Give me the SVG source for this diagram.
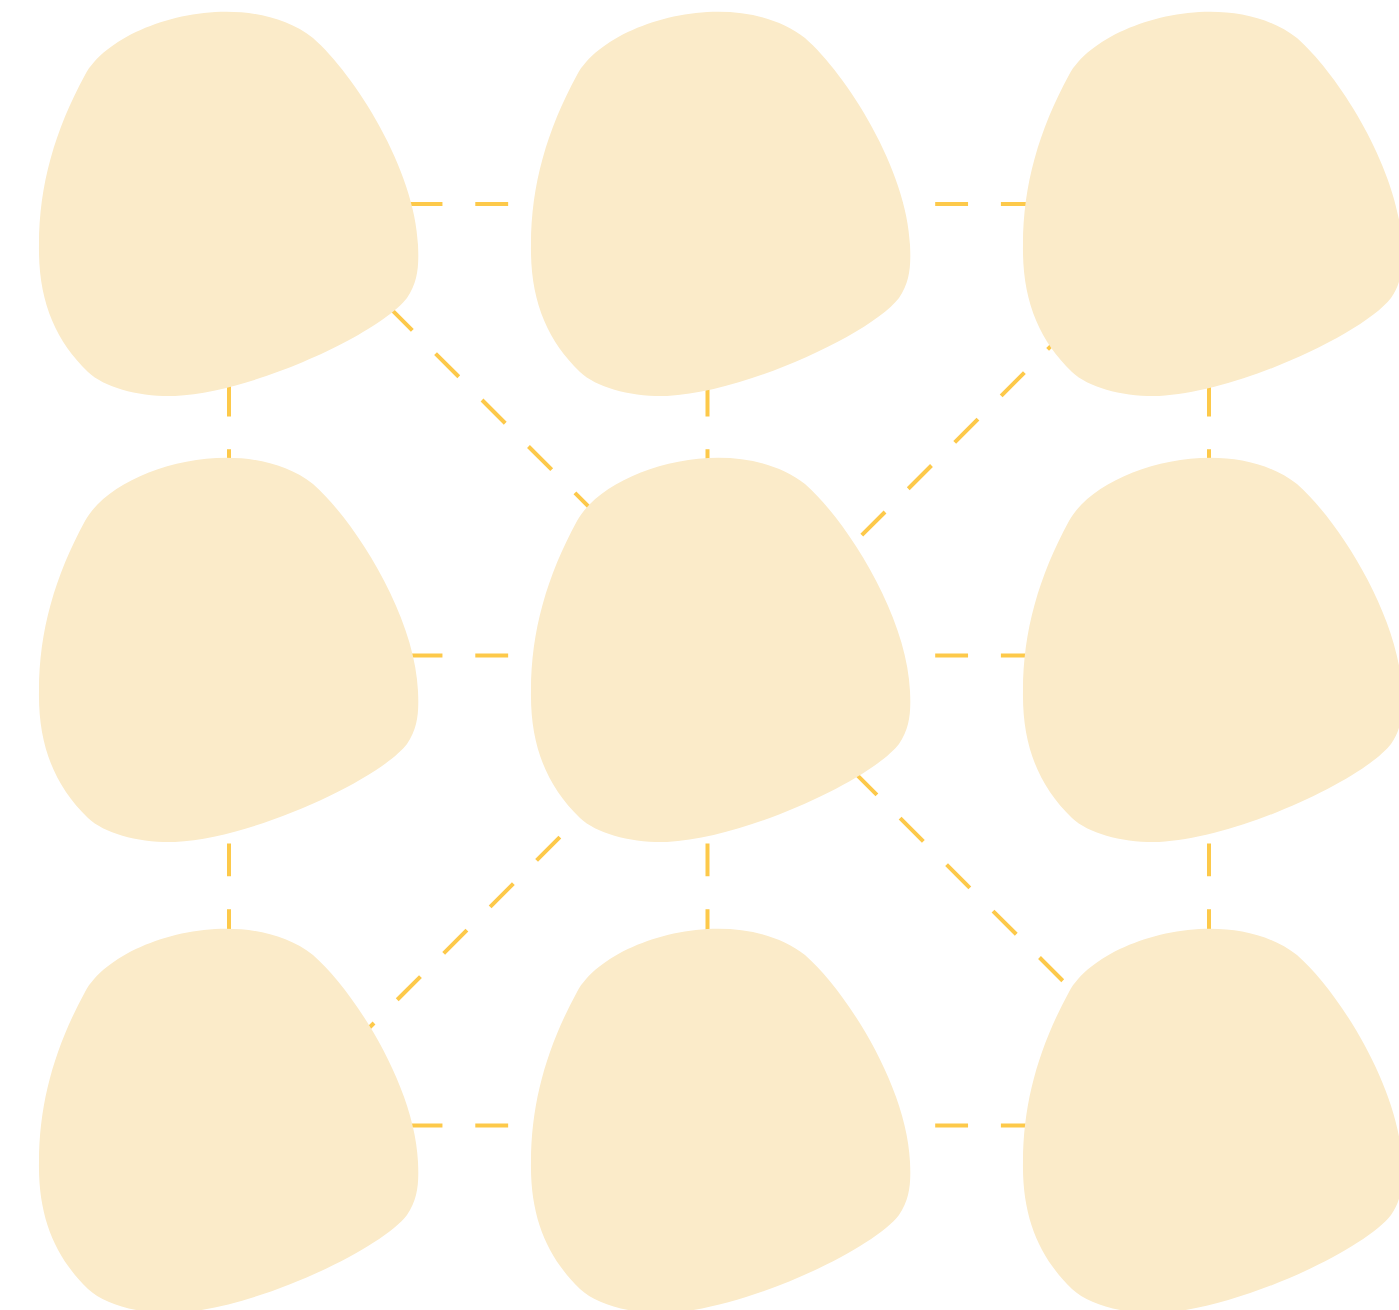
<svg xmlns="http://www.w3.org/2000/svg" xmlns:xlink="http://www.w3.org/1999/xlink" width="1399" height="1310" viewBox="0 0 1399 1310">
  <style>
    .edge { stroke: #FDC94A; stroke-width: 4; fill: none; stroke-dasharray: 32.85 32.85; stroke-linecap: butt; }
    .blob { fill: #FBEBC9; stroke: none; }
  </style>
  <defs>
    <path id="blob" d="M85,75 C115,20 245,-15 313,38 C355,75 415,170 418,245 C419,266 418,282 407,298 C380,333 255,392 175,396 C140,397 105,388 88,372 C55,340 38,300 39,245 C39,185 55,130 85,75 Z"/>
  </defs>
  <rect width="1399" height="1310" fill="#FFFFFF"/>
  <g id="connectors">
    <line class="edge" x1="343.9" y1="204" x2="1100" y2="204"/>
    <line class="edge" x1="343.9" y1="655.5" x2="1100" y2="655.5"/>
    <line class="edge" x1="343.9" y1="1125.5" x2="1100" y2="1125.5"/>
    <line class="edge" x1="229" y1="317.9" x2="229" y2="1000"/>
    <line class="edge" x1="707.5" y1="317.9" x2="707.5" y2="1000"/>
    <line class="edge" x1="1209" y1="317.9" x2="1209" y2="1000"/>
    <line class="edge" x1="389.1" y1="307.1" x2="1110" y2="1028"/>
    <line class="edge" x1="1070.85" y1="326.15" x2="330" y2="1067"/>
  </g>
  <g id="node-1"><use href="#blob" xlink:href="#blob" class="blob" transform="translate(0,0)"/></g>
  <g id="node-2"><use href="#blob" xlink:href="#blob" class="blob" transform="translate(492,0)"/></g>
  <g id="node-3"><use href="#blob" xlink:href="#blob" class="blob" transform="translate(984,0)"/></g>
  <g id="node-4"><use href="#blob" xlink:href="#blob" class="blob" transform="translate(0,446)"/></g>
  <g id="node-5"><use href="#blob" xlink:href="#blob" class="blob" transform="translate(492,446)"/></g>
  <g id="node-6"><use href="#blob" xlink:href="#blob" class="blob" transform="translate(984,446)"/></g>
  <g id="node-7"><use href="#blob" xlink:href="#blob" class="blob" transform="translate(0,917)"/></g>
  <g id="node-8"><use href="#blob" xlink:href="#blob" class="blob" transform="translate(492,917)"/></g>
  <g id="node-9"><use href="#blob" xlink:href="#blob" class="blob" transform="translate(984,917)"/></g>
</svg>
